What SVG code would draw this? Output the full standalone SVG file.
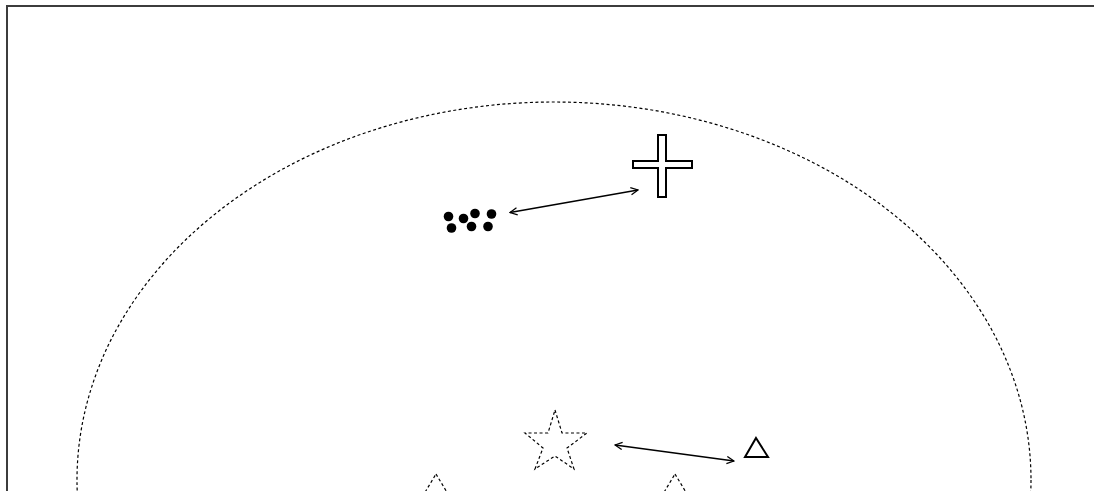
<svg xmlns="http://www.w3.org/2000/svg" width="1094" height="491" viewBox="0 0 1094 491">
  <style>
    .frame { fill: none; stroke: #3c3c3c; stroke-width: 2; }
    .dashed { fill: none; stroke: #000; stroke-width: 1.2; stroke-dasharray: 3 2.5; }
    .outline { fill: #fff; stroke: #000; stroke-width: 2; }
    .dot { fill: #000; }
    .conn { fill: none; stroke: #000; stroke-width: 1.4; }
  </style>
  <defs>
    <marker id="head" viewBox="0 0 10 10" refX="9" refY="5" markerWidth="9" markerHeight="9" markerUnits="userSpaceOnUse" orient="auto-start-reverse">
      <path d="M1,1 L9,5 L1,9" fill="none" stroke="#000" stroke-width="1.4"/>
    </marker>
  </defs>
  <rect width="1094" height="491" fill="#fff"/>
  <path class="frame" d="M7,491 V6 H1094"/>
  <g id="boundary">
    <ellipse class="dashed" cx="554" cy="480" rx="477" ry="378"/>
  </g>
  <g id="cross">
    <polygon class="outline" points="658,135 666,135 666,161 692,161 692,168 666,168 666,197 658,197 658,168 633,168 633,161 658,161"/>
  </g>
  <g id="dots">
    <circle class="dot" cx="448.5" cy="216.5" r="4.8"/>
    <circle class="dot" cx="463.5" cy="218.5" r="4.8"/>
    <circle class="dot" cx="475" cy="213.5" r="4.8"/>
    <circle class="dot" cx="491.5" cy="214" r="4.8"/>
    <circle class="dot" cx="451.5" cy="228" r="4.8"/>
    <circle class="dot" cx="471.5" cy="226.5" r="4.8"/>
    <circle class="dot" cx="488" cy="226.5" r="4.8"/>
  </g>
  <g id="star">
    <polygon class="dashed" stroke-width="1.6" stroke-dasharray="3.5 2.5" points="555,410 562,433 587,433 567,448 574,469 555,456 535,469 543,448 525,433 548,433"/>
  </g>
  <g id="triangle-right">
    <polygon class="outline" points="756,438 768,457 745,457"/>
  </g>
  <g id="triangle-left-bottom">
    <polygon class="dashed" stroke-dasharray="2 1.5" points="436,474 448,494 424,494"/>
  </g>
  <g id="triangle-mid-bottom">
    <polygon class="dashed" stroke-dasharray="2 1.5" points="675,474 687,494 663,494"/>
  </g>
  <g id="connectors">
    <line class="conn" x1="510" y1="212.5" x2="638" y2="190" marker-start="url(#head)" marker-end="url(#head)"/>
    <line class="conn" x1="615" y1="445" x2="734" y2="461" marker-start="url(#head)" marker-end="url(#head)"/>
  </g>
</svg>
